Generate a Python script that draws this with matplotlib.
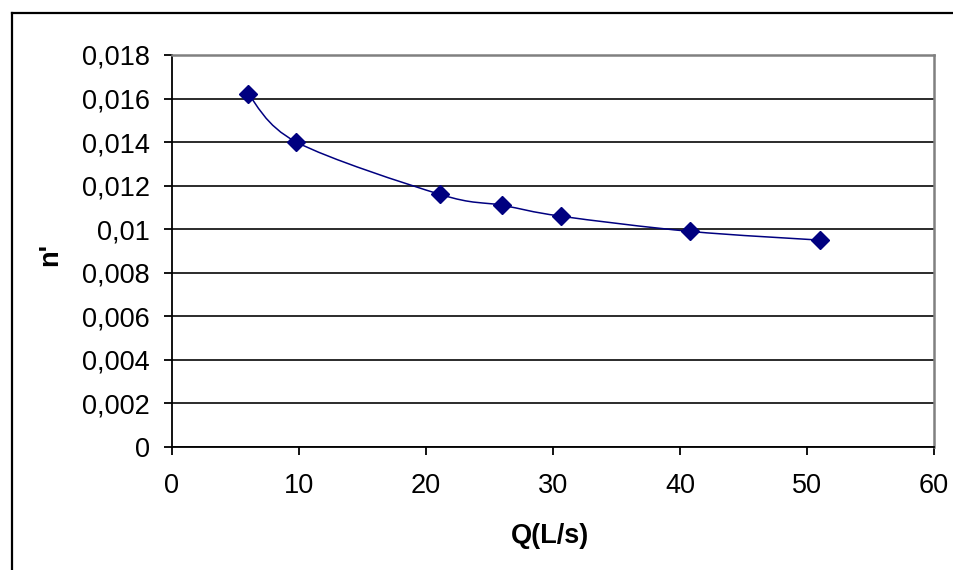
import matplotlib
matplotlib.use("Agg")
import matplotlib.pyplot as plt
import numpy as np
from matplotlib.lines import Line2D
from matplotlib.patches import PathPatch
from matplotlib.path import Path
from matplotlib.ticker import FuncFormatter, MultipleLocator

plt.rcParams["font.family"] = ["Liberation Sans", "DejaVu Sans"]

# discharge (L/s) and roughness n'
q = [6.0, 9.8, 21.1, 26.0, 30.6, 40.8, 51.0]
n_rough = [0.0162, 0.0140, 0.0116, 0.0111, 0.0106, 0.0099, 0.0095]

x_ticks = [0, 10, 20, 30, 40, 50, 60]
y_ticks = [0, 0.002, 0.004, 0.006, 0.008, 0.010, 0.012, 0.014, 0.016, 0.018]

NAVY = "#000080"
FS = 19.5


def smooth_path(xs, ys, t=1 / 6):
    # spreadsheet-style smoothed line: cubic Bezier through every point
    pts = np.column_stack([xs, ys])
    n = len(pts)
    verts = [pts[0]]
    codes = [Path.MOVETO]
    for i in range(n - 1):
        p_prev = pts[max(i - 1, 0)]
        p0, p1 = pts[i], pts[i + 1]
        p_next = pts[min(i + 2, n - 1)]
        c1 = p0 + (p1 - p_prev) * t
        c2 = p1 - (p_next - p0) * t
        verts += [c1, c2, p1]
        codes += [Path.CURVE4] * 3
    return Path(verts, codes)


fig = plt.figure(figsize=(9.54, 5.70), dpi=100)
ax = fig.add_axes([172 / 954, 1 - 447 / 570, 762 / 954, 392 / 570])

ax.set_xlim(x_ticks[0], x_ticks[-1])
ax.set_ylim(y_ticks[0], y_ticks[-1])
ax.xaxis.set_major_locator(MultipleLocator(10))
ax.yaxis.set_major_locator(MultipleLocator(0.002))

fmt = FuncFormatter(lambda v, _: "0" if abs(v) < 1e-12 else f"{v:g}".replace(".", ","))
ax.xaxis.set_major_formatter(fmt)
ax.yaxis.set_major_formatter(fmt)

ax.set_axisbelow(True)
ax.grid(axis="y", color="#1a1a1a", linewidth=1.3)
ax.grid(axis="x", visible=False)

for side in ("left", "bottom"):
    ax.spines[side].set_color("black")
    ax.spines[side].set_linewidth(1.3)
for side in ("top", "right"):
    ax.spines[side].set_color("#808080")
    ax.spines[side].set_linewidth(1.8)

ax.tick_params(direction="out", length=6, width=1.3, colors="black",
               labelsize=FS)
ax.tick_params(axis="y", pad=10)
ax.tick_params(axis="x", pad=13)

ax.add_patch(PathPatch(smooth_path(q, n_rough), facecolor="none",
                       edgecolor=NAVY, linewidth=1.1, zorder=3))
ax.plot(q, n_rough, linestyle="none", marker="D", markersize=9,
        color=NAVY, zorder=4, clip_on=False)

ax.set_xlabel("Q(L/s)", fontsize=FS, fontweight="bold")
ax.set_ylabel("n'", fontsize=FS, fontweight="bold")
ax.xaxis.set_label_coords(0.496, -0.195)
ax.yaxis.set_label_coords(-0.143, 0.49)

# chart frame around the whole figure
fig.add_artist(Line2D([12 / 954, 12 / 954], [0, 1 - 13 / 570],
                      color="black", linewidth=1.6))
fig.add_artist(Line2D([12 / 954, 1], [1 - 13 / 570, 1 - 13 / 570],
                      color="black", linewidth=1.6))

fig.savefig("out.png", dpi=100)
